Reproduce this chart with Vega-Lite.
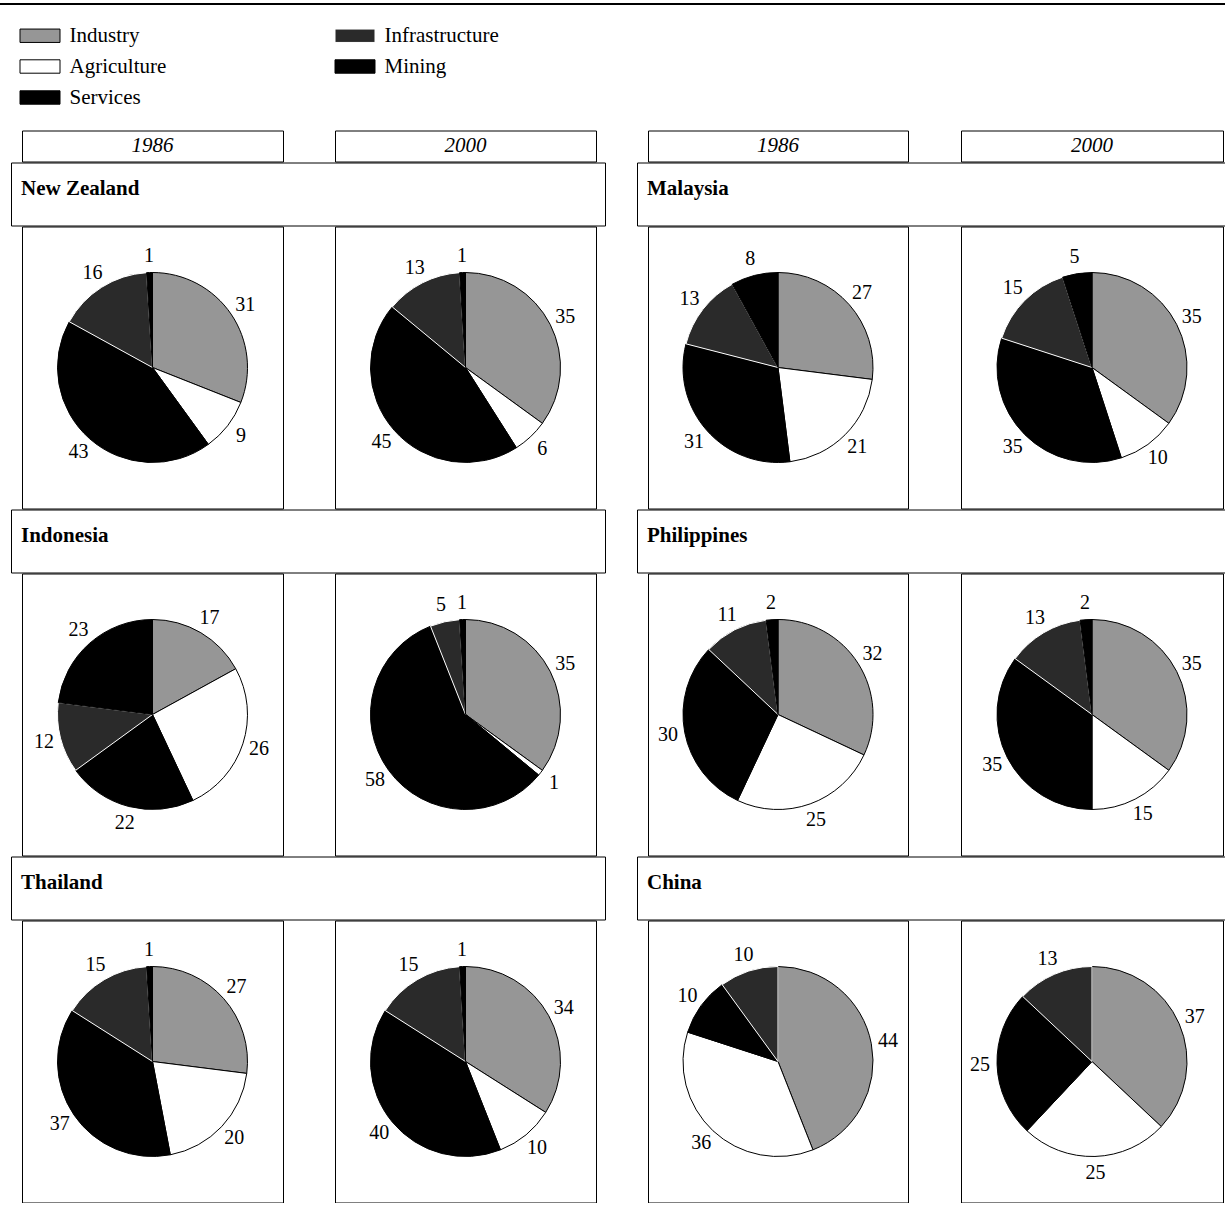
{
  "$schema": "https://vega.github.io/schema/vega-lite/v6.json",
  "padding": {"left": 0, "top": 3, "right": 0, "bottom": 0},
  "background": "white",
  "config": {
    "font": "Liberation Serif",
    "view": {"stroke": "black", "strokeWidth": 1},
    "text": {"color": "black"}
  },
  "datasets": {
    "shares": [
      {"country": "New Zealand", "year": 1986, "sector": "Industry", "share": 31},
      {"country": "New Zealand", "year": 1986, "sector": "Agriculture", "share": 9},
      {"country": "New Zealand", "year": 1986, "sector": "Services", "share": 43},
      {"country": "New Zealand", "year": 1986, "sector": "Infrastructure", "share": 16},
      {"country": "New Zealand", "year": 1986, "sector": "Mining", "share": 1},
      {"country": "New Zealand", "year": 2000, "sector": "Industry", "share": 35},
      {"country": "New Zealand", "year": 2000, "sector": "Agriculture", "share": 6},
      {"country": "New Zealand", "year": 2000, "sector": "Services", "share": 45},
      {"country": "New Zealand", "year": 2000, "sector": "Infrastructure", "share": 13},
      {"country": "New Zealand", "year": 2000, "sector": "Mining", "share": 1},
      {"country": "Malaysia", "year": 1986, "sector": "Industry", "share": 27},
      {"country": "Malaysia", "year": 1986, "sector": "Agriculture", "share": 21},
      {"country": "Malaysia", "year": 1986, "sector": "Services", "share": 31},
      {"country": "Malaysia", "year": 1986, "sector": "Infrastructure", "share": 13},
      {"country": "Malaysia", "year": 1986, "sector": "Mining", "share": 8},
      {"country": "Malaysia", "year": 2000, "sector": "Industry", "share": 35},
      {"country": "Malaysia", "year": 2000, "sector": "Agriculture", "share": 10},
      {"country": "Malaysia", "year": 2000, "sector": "Services", "share": 35},
      {"country": "Malaysia", "year": 2000, "sector": "Infrastructure", "share": 15},
      {"country": "Malaysia", "year": 2000, "sector": "Mining", "share": 5},
      {"country": "Indonesia", "year": 1986, "sector": "Industry", "share": 17},
      {"country": "Indonesia", "year": 1986, "sector": "Agriculture", "share": 26},
      {"country": "Indonesia", "year": 1986, "sector": "Services", "share": 22},
      {"country": "Indonesia", "year": 1986, "sector": "Infrastructure", "share": 12},
      {"country": "Indonesia", "year": 1986, "sector": "Mining", "share": 23},
      {"country": "Indonesia", "year": 2000, "sector": "Industry", "share": 35},
      {"country": "Indonesia", "year": 2000, "sector": "Agriculture", "share": 1},
      {"country": "Indonesia", "year": 2000, "sector": "Services", "share": 58},
      {"country": "Indonesia", "year": 2000, "sector": "Infrastructure", "share": 5},
      {"country": "Indonesia", "year": 2000, "sector": "Mining", "share": 1},
      {"country": "Philippines", "year": 1986, "sector": "Industry", "share": 32},
      {"country": "Philippines", "year": 1986, "sector": "Agriculture", "share": 25},
      {"country": "Philippines", "year": 1986, "sector": "Services", "share": 30},
      {"country": "Philippines", "year": 1986, "sector": "Infrastructure", "share": 11},
      {"country": "Philippines", "year": 1986, "sector": "Mining", "share": 2},
      {"country": "Philippines", "year": 2000, "sector": "Industry", "share": 35},
      {"country": "Philippines", "year": 2000, "sector": "Agriculture", "share": 15},
      {"country": "Philippines", "year": 2000, "sector": "Services", "share": 35},
      {"country": "Philippines", "year": 2000, "sector": "Infrastructure", "share": 13},
      {"country": "Philippines", "year": 2000, "sector": "Mining", "share": 2},
      {"country": "Thailand", "year": 1986, "sector": "Industry", "share": 27},
      {"country": "Thailand", "year": 1986, "sector": "Agriculture", "share": 20},
      {"country": "Thailand", "year": 1986, "sector": "Services", "share": 37},
      {"country": "Thailand", "year": 1986, "sector": "Infrastructure", "share": 15},
      {"country": "Thailand", "year": 1986, "sector": "Mining", "share": 1},
      {"country": "Thailand", "year": 2000, "sector": "Industry", "share": 34},
      {"country": "Thailand", "year": 2000, "sector": "Agriculture", "share": 10},
      {"country": "Thailand", "year": 2000, "sector": "Services", "share": 40},
      {"country": "Thailand", "year": 2000, "sector": "Infrastructure", "share": 15},
      {"country": "Thailand", "year": 2000, "sector": "Mining", "share": 1},
      {"country": "China", "year": 1986, "sector": "Industry", "share": 44},
      {"country": "China", "year": 1986, "sector": "Agriculture", "share": 36},
      {"country": "China", "year": 1986, "sector": "Services", "share": 10},
      {"country": "China", "year": 1986, "sector": "Infrastructure", "share": 10},
      {"country": "China", "year": 2000, "sector": "Industry", "share": 37},
      {"country": "China", "year": 2000, "sector": "Agriculture", "share": 25},
      {"country": "China", "year": 2000, "sector": "Services", "share": 25},
      {"country": "China", "year": 2000, "sector": "Infrastructure", "share": 13}
    ]
  },
  "spacing": 124.5,
  "vconcat": [
    {"width": 1225, "height": 2, "data": {"values": []}, "mark": "point", "view": {"fill": "black", "stroke": null}},
    {
      "spacing": 0,
      "hconcat": [
        {"width": 10, "height": 1, "data": {"values": []}, "mark": "point", "view": {"stroke": null}},
        {
          "spacing": 30,
          "hconcat": [
            {
              "spacing": -2,
              "vconcat": [
                {"spacing": 0, "hconcat": [
                  {"width": 10, "height": 1, "data": {"values": []}, "mark": "point", "view": {"stroke": null}},
                  {"spacing": 50, "hconcat": [
                    {"width": 261, "height": 31, "view": {"stroke": "black"}, "data": {"values": [{"year": "1986"}]}, "mark": {"type": "text", "fontSize": 21, "fontStyle": "italic"}, "encoding": {"text": {"field": "year", "type": "nominal"}}},
                    {"width": 261, "height": 31, "view": {"stroke": "black"}, "data": {"values": [{"year": "2000"}]}, "mark": {"type": "text", "fontSize": 21, "fontStyle": "italic"}, "encoding": {"text": {"field": "year", "type": "nominal"}}}
                  ]}
                ]},
                {"width": 594, "height": 63, "view": {"stroke": "black"}, "data": {"values": []}, "mark": "point", "title": {"text": "New Zealand", "anchor": "start", "frame": "group", "orient": "top", "offset": -53, "baseline": "alphabetic", "dx": 10, "fontSize": 21, "fontWeight": "bold", "color": "black", "font": "Liberation Serif"}},
                {"spacing": 0, "hconcat": [
                  {"width": 10, "height": 1, "data": {"values": []}, "mark": "point", "view": {"stroke": null}},
                  {"spacing": 50, "hconcat": [
                    {"width": 261, "height": 282, "view": {"stroke": "black"}, "data": {"name": "shares"},
                     "transform": [{"filter": {"and": [{"field": "country", "equal": "New Zealand"}, {"field": "year", "equal": 1986}]}}, {"calculate": "indexof(['Industry','Agriculture','Services','Infrastructure','Mining'], datum.sector)", "as": "k"}],
                     "encoding": {"theta": {"field": "share", "type": "quantitative", "stack": true}, "order": {"field": "k", "type": "quantitative"}, "detail": {"field": "sector", "type": "nominal"}},
                     "layer": [
                       {"mark": {"type": "arc", "outerRadius": 95, "strokeWidth": 1}, "encoding": {
                         "color": {"field": "sector", "type": "nominal", "scale": {"domain": ["Industry", "Agriculture", "Services", "Infrastructure", "Mining"], "range": ["#969696", "#ffffff", "#000000", "#2a2a2a", "#000000"]}, "legend": {"title": null, "orient": "none", "legendX": 19.5, "legendY": 12, "columns": 2, "columnPadding": 166, "rowPadding": -0.5, "symbolType": "M-1,-0.335H1V0.335H-1Z", "symbolSize": 1600, "symbolStrokeColor": "black", "symbolStrokeWidth": 1, "labelFont": "Liberation Serif", "labelFontSize": 21, "labelColor": "black", "labelOffset": 9, "padding": 0}},
                         "stroke": {"field": "sector", "type": "nominal", "scale": {"domain": ["Industry", "Agriculture", "Services", "Infrastructure", "Mining"], "range": ["black", "black", "black", "white", "black"]}, "legend": null}}},
                       {"mark": {"type": "text", "radius": 112, "fontSize": 20}, "encoding": {"text": {"field": "share", "type": "quantitative"}}}
                     ]},
                    {"width": 261, "height": 282, "view": {"stroke": "black"}, "data": {"name": "shares"},
                     "transform": [{"filter": {"and": [{"field": "country", "equal": "New Zealand"}, {"field": "year", "equal": 2000}]}}, {"calculate": "indexof(['Industry','Agriculture','Services','Infrastructure','Mining'], datum.sector)", "as": "k"}],
                     "encoding": {"theta": {"field": "share", "type": "quantitative", "stack": true}, "order": {"field": "k", "type": "quantitative"}, "detail": {"field": "sector", "type": "nominal"}},
                     "layer": [
                       {"mark": {"type": "arc", "outerRadius": 95, "strokeWidth": 1}, "encoding": {
                         "color": {"field": "sector", "type": "nominal", "scale": {"domain": ["Industry", "Agriculture", "Services", "Infrastructure", "Mining"], "range": ["#969696", "#ffffff", "#000000", "#2a2a2a", "#000000"]}, "legend": {"title": null, "orient": "none", "legendX": 19.5, "legendY": 12, "columns": 2, "columnPadding": 166, "rowPadding": -0.5, "symbolType": "M-1,-0.335H1V0.335H-1Z", "symbolSize": 1600, "symbolStrokeColor": "black", "symbolStrokeWidth": 1, "labelFont": "Liberation Serif", "labelFontSize": 21, "labelColor": "black", "labelOffset": 9, "padding": 0}},
                         "stroke": {"field": "sector", "type": "nominal", "scale": {"domain": ["Industry", "Agriculture", "Services", "Infrastructure", "Mining"], "range": ["black", "black", "black", "white", "black"]}, "legend": null}}},
                       {"mark": {"type": "text", "radius": 112, "fontSize": 20}, "encoding": {"text": {"field": "share", "type": "quantitative"}}}
                     ]}
                  ]}
                ]},
                {"width": 594, "height": 63, "view": {"stroke": "black"}, "data": {"values": []}, "mark": "point", "title": {"text": "Indonesia", "anchor": "start", "frame": "group", "orient": "top", "offset": -53, "baseline": "alphabetic", "dx": 10, "fontSize": 21, "fontWeight": "bold", "color": "black", "font": "Liberation Serif"}},
                {"spacing": 0, "hconcat": [
                  {"width": 10, "height": 1, "data": {"values": []}, "mark": "point", "view": {"stroke": null}},
                  {"spacing": 50, "hconcat": [
                    {"width": 261, "height": 282, "view": {"stroke": "black"}, "data": {"name": "shares"},
                     "transform": [{"filter": {"and": [{"field": "country", "equal": "Indonesia"}, {"field": "year", "equal": 1986}]}}, {"calculate": "indexof(['Industry','Agriculture','Services','Infrastructure','Mining'], datum.sector)", "as": "k"}],
                     "encoding": {"theta": {"field": "share", "type": "quantitative", "stack": true}, "order": {"field": "k", "type": "quantitative"}, "detail": {"field": "sector", "type": "nominal"}},
                     "layer": [
                       {"mark": {"type": "arc", "outerRadius": 95, "strokeWidth": 1}, "encoding": {
                         "color": {"field": "sector", "type": "nominal", "scale": {"domain": ["Industry", "Agriculture", "Services", "Infrastructure", "Mining"], "range": ["#969696", "#ffffff", "#000000", "#2a2a2a", "#000000"]}, "legend": {"title": null, "orient": "none", "legendX": 19.5, "legendY": 12, "columns": 2, "columnPadding": 166, "rowPadding": -0.5, "symbolType": "M-1,-0.335H1V0.335H-1Z", "symbolSize": 1600, "symbolStrokeColor": "black", "symbolStrokeWidth": 1, "labelFont": "Liberation Serif", "labelFontSize": 21, "labelColor": "black", "labelOffset": 9, "padding": 0}},
                         "stroke": {"field": "sector", "type": "nominal", "scale": {"domain": ["Industry", "Agriculture", "Services", "Infrastructure", "Mining"], "range": ["black", "black", "black", "white", "black"]}, "legend": null}}},
                       {"mark": {"type": "text", "radius": 112, "fontSize": 20}, "encoding": {"text": {"field": "share", "type": "quantitative"}}}
                     ]},
                    {"width": 261, "height": 282, "view": {"stroke": "black"}, "data": {"name": "shares"},
                     "transform": [{"filter": {"and": [{"field": "country", "equal": "Indonesia"}, {"field": "year", "equal": 2000}]}}, {"calculate": "indexof(['Industry','Agriculture','Services','Infrastructure','Mining'], datum.sector)", "as": "k"}],
                     "encoding": {"theta": {"field": "share", "type": "quantitative", "stack": true}, "order": {"field": "k", "type": "quantitative"}, "detail": {"field": "sector", "type": "nominal"}},
                     "layer": [
                       {"mark": {"type": "arc", "outerRadius": 95, "strokeWidth": 1}, "encoding": {
                         "color": {"field": "sector", "type": "nominal", "scale": {"domain": ["Industry", "Agriculture", "Services", "Infrastructure", "Mining"], "range": ["#969696", "#ffffff", "#000000", "#2a2a2a", "#000000"]}, "legend": {"title": null, "orient": "none", "legendX": 19.5, "legendY": 12, "columns": 2, "columnPadding": 166, "rowPadding": -0.5, "symbolType": "M-1,-0.335H1V0.335H-1Z", "symbolSize": 1600, "symbolStrokeColor": "black", "symbolStrokeWidth": 1, "labelFont": "Liberation Serif", "labelFontSize": 21, "labelColor": "black", "labelOffset": 9, "padding": 0}},
                         "stroke": {"field": "sector", "type": "nominal", "scale": {"domain": ["Industry", "Agriculture", "Services", "Infrastructure", "Mining"], "range": ["black", "black", "black", "white", "black"]}, "legend": null}}},
                       {"mark": {"type": "text", "radius": 112, "fontSize": 20}, "encoding": {"text": {"field": "share", "type": "quantitative"}}}
                     ]}
                  ]}
                ]},
                {"width": 594, "height": 63, "view": {"stroke": "black"}, "data": {"values": []}, "mark": "point", "title": {"text": "Thailand", "anchor": "start", "frame": "group", "orient": "top", "offset": -53, "baseline": "alphabetic", "dx": 10, "fontSize": 21, "fontWeight": "bold", "color": "black", "font": "Liberation Serif"}},
                {"spacing": 0, "hconcat": [
                  {"width": 10, "height": 1, "data": {"values": []}, "mark": "point", "view": {"stroke": null}},
                  {"spacing": 50, "hconcat": [
                    {"width": 261, "height": 282, "view": {"stroke": "black"}, "data": {"name": "shares"},
                     "transform": [{"filter": {"and": [{"field": "country", "equal": "Thailand"}, {"field": "year", "equal": 1986}]}}, {"calculate": "indexof(['Industry','Agriculture','Services','Infrastructure','Mining'], datum.sector)", "as": "k"}],
                     "encoding": {"theta": {"field": "share", "type": "quantitative", "stack": true}, "order": {"field": "k", "type": "quantitative"}, "detail": {"field": "sector", "type": "nominal"}},
                     "layer": [
                       {"mark": {"type": "arc", "outerRadius": 95, "strokeWidth": 1}, "encoding": {
                         "color": {"field": "sector", "type": "nominal", "scale": {"domain": ["Industry", "Agriculture", "Services", "Infrastructure", "Mining"], "range": ["#969696", "#ffffff", "#000000", "#2a2a2a", "#000000"]}, "legend": {"title": null, "orient": "none", "legendX": 19.5, "legendY": 12, "columns": 2, "columnPadding": 166, "rowPadding": -0.5, "symbolType": "M-1,-0.335H1V0.335H-1Z", "symbolSize": 1600, "symbolStrokeColor": "black", "symbolStrokeWidth": 1, "labelFont": "Liberation Serif", "labelFontSize": 21, "labelColor": "black", "labelOffset": 9, "padding": 0}},
                         "stroke": {"field": "sector", "type": "nominal", "scale": {"domain": ["Industry", "Agriculture", "Services", "Infrastructure", "Mining"], "range": ["black", "black", "black", "white", "black"]}, "legend": null}}},
                       {"mark": {"type": "text", "radius": 112, "fontSize": 20}, "encoding": {"text": {"field": "share", "type": "quantitative"}}}
                     ]},
                    {"width": 261, "height": 282, "view": {"stroke": "black"}, "data": {"name": "shares"},
                     "transform": [{"filter": {"and": [{"field": "country", "equal": "Thailand"}, {"field": "year", "equal": 2000}]}}, {"calculate": "indexof(['Industry','Agriculture','Services','Infrastructure','Mining'], datum.sector)", "as": "k"}],
                     "encoding": {"theta": {"field": "share", "type": "quantitative", "stack": true}, "order": {"field": "k", "type": "quantitative"}, "detail": {"field": "sector", "type": "nominal"}},
                     "layer": [
                       {"mark": {"type": "arc", "outerRadius": 95, "strokeWidth": 1}, "encoding": {
                         "color": {"field": "sector", "type": "nominal", "scale": {"domain": ["Industry", "Agriculture", "Services", "Infrastructure", "Mining"], "range": ["#969696", "#ffffff", "#000000", "#2a2a2a", "#000000"]}, "legend": {"title": null, "orient": "none", "legendX": 19.5, "legendY": 12, "columns": 2, "columnPadding": 166, "rowPadding": -0.5, "symbolType": "M-1,-0.335H1V0.335H-1Z", "symbolSize": 1600, "symbolStrokeColor": "black", "symbolStrokeWidth": 1, "labelFont": "Liberation Serif", "labelFontSize": 21, "labelColor": "black", "labelOffset": 9, "padding": 0}},
                         "stroke": {"field": "sector", "type": "nominal", "scale": {"domain": ["Industry", "Agriculture", "Services", "Infrastructure", "Mining"], "range": ["black", "black", "black", "white", "black"]}, "legend": null}}},
                       {"mark": {"type": "text", "radius": 112, "fontSize": 20}, "encoding": {"text": {"field": "share", "type": "quantitative"}}}
                     ]}
                  ]}
                ]}
              ]
            },
            {
              "spacing": -2,
              "vconcat": [
                {"spacing": 0, "hconcat": [
                  {"width": 10, "height": 1, "data": {"values": []}, "mark": "point", "view": {"stroke": null}},
                  {"spacing": 51, "hconcat": [
                    {"width": 260, "height": 31, "view": {"stroke": "black"}, "data": {"values": [{"year": "1986"}]}, "mark": {"type": "text", "fontSize": 21, "fontStyle": "italic"}, "encoding": {"text": {"field": "year", "type": "nominal"}}},
                    {"width": 262, "height": 31, "view": {"stroke": "black"}, "data": {"values": [{"year": "2000"}]}, "mark": {"type": "text", "fontSize": 21, "fontStyle": "italic"}, "encoding": {"text": {"field": "year", "type": "nominal"}}}
                  ]}
                ]},
                {"width": 590, "height": 63, "view": {"stroke": "black"}, "data": {"values": []}, "mark": "point", "title": {"text": "Malaysia", "anchor": "start", "frame": "group", "orient": "top", "offset": -53, "baseline": "alphabetic", "dx": 10, "fontSize": 21, "fontWeight": "bold", "color": "black", "font": "Liberation Serif"}},
                {"spacing": 0, "hconcat": [
                  {"width": 10, "height": 1, "data": {"values": []}, "mark": "point", "view": {"stroke": null}},
                  {"spacing": 51, "hconcat": [
                    {"width": 260, "height": 282, "view": {"stroke": "black"}, "data": {"name": "shares"},
                     "transform": [{"filter": {"and": [{"field": "country", "equal": "Malaysia"}, {"field": "year", "equal": 1986}]}}, {"calculate": "indexof(['Industry','Agriculture','Services','Infrastructure','Mining'], datum.sector)", "as": "k"}],
                     "encoding": {"theta": {"field": "share", "type": "quantitative", "stack": true}, "order": {"field": "k", "type": "quantitative"}, "detail": {"field": "sector", "type": "nominal"}},
                     "layer": [
                       {"mark": {"type": "arc", "outerRadius": 95, "strokeWidth": 1}, "encoding": {
                         "color": {"field": "sector", "type": "nominal", "scale": {"domain": ["Industry", "Agriculture", "Services", "Infrastructure", "Mining"], "range": ["#969696", "#ffffff", "#000000", "#2a2a2a", "#000000"]}, "legend": {"title": null, "orient": "none", "legendX": 19.5, "legendY": 12, "columns": 2, "columnPadding": 166, "rowPadding": -0.5, "symbolType": "M-1,-0.335H1V0.335H-1Z", "symbolSize": 1600, "symbolStrokeColor": "black", "symbolStrokeWidth": 1, "labelFont": "Liberation Serif", "labelFontSize": 21, "labelColor": "black", "labelOffset": 9, "padding": 0}},
                         "stroke": {"field": "sector", "type": "nominal", "scale": {"domain": ["Industry", "Agriculture", "Services", "Infrastructure", "Mining"], "range": ["black", "black", "black", "white", "black"]}, "legend": null}}},
                       {"mark": {"type": "text", "radius": 112, "fontSize": 20}, "encoding": {"text": {"field": "share", "type": "quantitative"}}}
                     ]},
                    {"width": 262, "height": 282, "view": {"stroke": "black"}, "data": {"name": "shares"},
                     "transform": [{"filter": {"and": [{"field": "country", "equal": "Malaysia"}, {"field": "year", "equal": 2000}]}}, {"calculate": "indexof(['Industry','Agriculture','Services','Infrastructure','Mining'], datum.sector)", "as": "k"}],
                     "encoding": {"theta": {"field": "share", "type": "quantitative", "stack": true}, "order": {"field": "k", "type": "quantitative"}, "detail": {"field": "sector", "type": "nominal"}},
                     "layer": [
                       {"mark": {"type": "arc", "outerRadius": 95, "strokeWidth": 1}, "encoding": {
                         "color": {"field": "sector", "type": "nominal", "scale": {"domain": ["Industry", "Agriculture", "Services", "Infrastructure", "Mining"], "range": ["#969696", "#ffffff", "#000000", "#2a2a2a", "#000000"]}, "legend": {"title": null, "orient": "none", "legendX": 19.5, "legendY": 12, "columns": 2, "columnPadding": 166, "rowPadding": -0.5, "symbolType": "M-1,-0.335H1V0.335H-1Z", "symbolSize": 1600, "symbolStrokeColor": "black", "symbolStrokeWidth": 1, "labelFont": "Liberation Serif", "labelFontSize": 21, "labelColor": "black", "labelOffset": 9, "padding": 0}},
                         "stroke": {"field": "sector", "type": "nominal", "scale": {"domain": ["Industry", "Agriculture", "Services", "Infrastructure", "Mining"], "range": ["black", "black", "black", "white", "black"]}, "legend": null}}},
                       {"mark": {"type": "text", "radius": 112, "fontSize": 20}, "encoding": {"text": {"field": "share", "type": "quantitative"}}}
                     ]}
                  ]}
                ]},
                {"width": 590, "height": 63, "view": {"stroke": "black"}, "data": {"values": []}, "mark": "point", "title": {"text": "Philippines", "anchor": "start", "frame": "group", "orient": "top", "offset": -53, "baseline": "alphabetic", "dx": 10, "fontSize": 21, "fontWeight": "bold", "color": "black", "font": "Liberation Serif"}},
                {"spacing": 0, "hconcat": [
                  {"width": 10, "height": 1, "data": {"values": []}, "mark": "point", "view": {"stroke": null}},
                  {"spacing": 51, "hconcat": [
                    {"width": 260, "height": 282, "view": {"stroke": "black"}, "data": {"name": "shares"},
                     "transform": [{"filter": {"and": [{"field": "country", "equal": "Philippines"}, {"field": "year", "equal": 1986}]}}, {"calculate": "indexof(['Industry','Agriculture','Services','Infrastructure','Mining'], datum.sector)", "as": "k"}],
                     "encoding": {"theta": {"field": "share", "type": "quantitative", "stack": true}, "order": {"field": "k", "type": "quantitative"}, "detail": {"field": "sector", "type": "nominal"}},
                     "layer": [
                       {"mark": {"type": "arc", "outerRadius": 95, "strokeWidth": 1}, "encoding": {
                         "color": {"field": "sector", "type": "nominal", "scale": {"domain": ["Industry", "Agriculture", "Services", "Infrastructure", "Mining"], "range": ["#969696", "#ffffff", "#000000", "#2a2a2a", "#000000"]}, "legend": {"title": null, "orient": "none", "legendX": 19.5, "legendY": 12, "columns": 2, "columnPadding": 166, "rowPadding": -0.5, "symbolType": "M-1,-0.335H1V0.335H-1Z", "symbolSize": 1600, "symbolStrokeColor": "black", "symbolStrokeWidth": 1, "labelFont": "Liberation Serif", "labelFontSize": 21, "labelColor": "black", "labelOffset": 9, "padding": 0}},
                         "stroke": {"field": "sector", "type": "nominal", "scale": {"domain": ["Industry", "Agriculture", "Services", "Infrastructure", "Mining"], "range": ["black", "black", "black", "white", "black"]}, "legend": null}}},
                       {"mark": {"type": "text", "radius": 112, "fontSize": 20}, "encoding": {"text": {"field": "share", "type": "quantitative"}}}
                     ]},
                    {"width": 262, "height": 282, "view": {"stroke": "black"}, "data": {"name": "shares"},
                     "transform": [{"filter": {"and": [{"field": "country", "equal": "Philippines"}, {"field": "year", "equal": 2000}]}}, {"calculate": "indexof(['Industry','Agriculture','Services','Infrastructure','Mining'], datum.sector)", "as": "k"}],
                     "encoding": {"theta": {"field": "share", "type": "quantitative", "stack": true}, "order": {"field": "k", "type": "quantitative"}, "detail": {"field": "sector", "type": "nominal"}},
                     "layer": [
                       {"mark": {"type": "arc", "outerRadius": 95, "strokeWidth": 1}, "encoding": {
                         "color": {"field": "sector", "type": "nominal", "scale": {"domain": ["Industry", "Agriculture", "Services", "Infrastructure", "Mining"], "range": ["#969696", "#ffffff", "#000000", "#2a2a2a", "#000000"]}, "legend": {"title": null, "orient": "none", "legendX": 19.5, "legendY": 12, "columns": 2, "columnPadding": 166, "rowPadding": -0.5, "symbolType": "M-1,-0.335H1V0.335H-1Z", "symbolSize": 1600, "symbolStrokeColor": "black", "symbolStrokeWidth": 1, "labelFont": "Liberation Serif", "labelFontSize": 21, "labelColor": "black", "labelOffset": 9, "padding": 0}},
                         "stroke": {"field": "sector", "type": "nominal", "scale": {"domain": ["Industry", "Agriculture", "Services", "Infrastructure", "Mining"], "range": ["black", "black", "black", "white", "black"]}, "legend": null}}},
                       {"mark": {"type": "text", "radius": 112, "fontSize": 20}, "encoding": {"text": {"field": "share", "type": "quantitative"}}}
                     ]}
                  ]}
                ]},
                {"width": 590, "height": 63, "view": {"stroke": "black"}, "data": {"values": []}, "mark": "point", "title": {"text": "China", "anchor": "start", "frame": "group", "orient": "top", "offset": -53, "baseline": "alphabetic", "dx": 10, "fontSize": 21, "fontWeight": "bold", "color": "black", "font": "Liberation Serif"}},
                {"spacing": 0, "hconcat": [
                  {"width": 10, "height": 1, "data": {"values": []}, "mark": "point", "view": {"stroke": null}},
                  {"spacing": 51, "hconcat": [
                    {"width": 260, "height": 282, "view": {"stroke": "black"}, "data": {"name": "shares"},
                     "transform": [{"filter": {"and": [{"field": "country", "equal": "China"}, {"field": "year", "equal": 1986}]}}, {"calculate": "indexof(['Industry','Agriculture','Services','Infrastructure','Mining'], datum.sector)", "as": "k"}],
                     "encoding": {"theta": {"field": "share", "type": "quantitative", "stack": true}, "order": {"field": "k", "type": "quantitative"}, "detail": {"field": "sector", "type": "nominal"}},
                     "layer": [
                       {"mark": {"type": "arc", "outerRadius": 95, "strokeWidth": 1}, "encoding": {
                         "color": {"field": "sector", "type": "nominal", "scale": {"domain": ["Industry", "Agriculture", "Services", "Infrastructure", "Mining"], "range": ["#969696", "#ffffff", "#000000", "#2a2a2a", "#000000"]}, "legend": {"title": null, "orient": "none", "legendX": 19.5, "legendY": 12, "columns": 2, "columnPadding": 166, "rowPadding": -0.5, "symbolType": "M-1,-0.335H1V0.335H-1Z", "symbolSize": 1600, "symbolStrokeColor": "black", "symbolStrokeWidth": 1, "labelFont": "Liberation Serif", "labelFontSize": 21, "labelColor": "black", "labelOffset": 9, "padding": 0}},
                         "stroke": {"field": "sector", "type": "nominal", "scale": {"domain": ["Industry", "Agriculture", "Services", "Infrastructure", "Mining"], "range": ["black", "black", "black", "white", "black"]}, "legend": null}}},
                       {"mark": {"type": "text", "radius": 112, "fontSize": 20}, "encoding": {"text": {"field": "share", "type": "quantitative"}}}
                     ]},
                    {"width": 262, "height": 282, "view": {"stroke": "black"}, "data": {"name": "shares"},
                     "transform": [{"filter": {"and": [{"field": "country", "equal": "China"}, {"field": "year", "equal": 2000}]}}, {"calculate": "indexof(['Industry','Agriculture','Services','Infrastructure','Mining'], datum.sector)", "as": "k"}],
                     "encoding": {"theta": {"field": "share", "type": "quantitative", "stack": true}, "order": {"field": "k", "type": "quantitative"}, "detail": {"field": "sector", "type": "nominal"}},
                     "layer": [
                       {"mark": {"type": "arc", "outerRadius": 95, "strokeWidth": 1}, "encoding": {
                         "color": {"field": "sector", "type": "nominal", "scale": {"domain": ["Industry", "Agriculture", "Services", "Infrastructure", "Mining"], "range": ["#969696", "#ffffff", "#000000", "#2a2a2a", "#000000"]}, "legend": {"title": null, "orient": "none", "legendX": 19.5, "legendY": 12, "columns": 2, "columnPadding": 166, "rowPadding": -0.5, "symbolType": "M-1,-0.335H1V0.335H-1Z", "symbolSize": 1600, "symbolStrokeColor": "black", "symbolStrokeWidth": 1, "labelFont": "Liberation Serif", "labelFontSize": 21, "labelColor": "black", "labelOffset": 9, "padding": 0}},
                         "stroke": {"field": "sector", "type": "nominal", "scale": {"domain": ["Industry", "Agriculture", "Services", "Infrastructure", "Mining"], "range": ["black", "black", "black", "white", "black"]}, "legend": null}}},
                       {"mark": {"type": "text", "radius": 112, "fontSize": 20}, "encoding": {"text": {"field": "share", "type": "quantitative"}}}
                     ]}
                  ]}
                ]}
              ]
            }
          ]
        }
      ]
    }
  ]
}
